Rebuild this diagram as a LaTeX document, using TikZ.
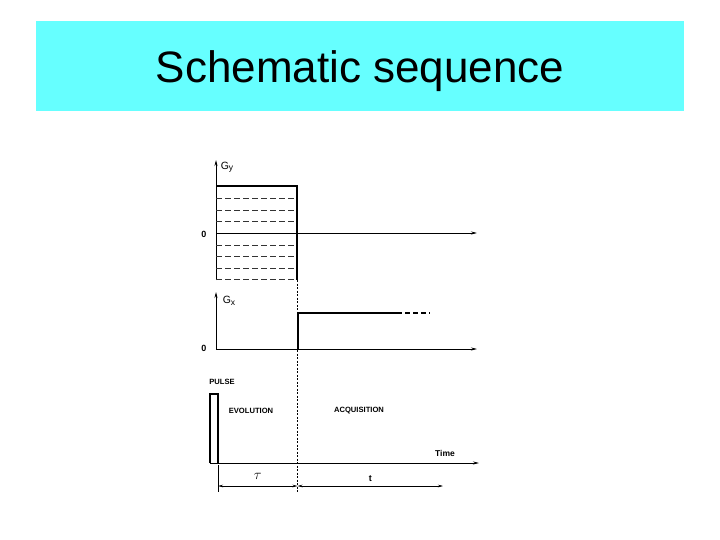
\documentclass[tikz,border=0pt]{standalone}
\usepackage{fontspec}
\setmainfont{Liberation Sans}
\usetikzlibrary{arrows.meta}
\definecolor{banner}{RGB}{102,255,255}
\newcommand{\gsub}[1]{G\raisebox{-1.5pt}{\fontsize{8.5}{9}\selectfont #1}}
\tikzset{
  axis/.style={line width=0.8pt,-{Stealth[length=6pt,width=3pt]}},
  span/.style={line width=0.5pt,{Stealth[length=5pt,width=2.5pt]}-{Stealth[length=5pt,width=2.5pt]}},
  signal/.style={line width=2pt},
  gradstep/.style={dash pattern=on 6pt off 3pt,line width=0.9pt,black!80},
  marker/.style={dash pattern=on 2pt off 1.5pt,line width=0.6pt},
  lbl/.style={font=\fontsize{7.6}{8}\selectfont\bfseries,inner sep=1pt},
  glbl/.style={font=\fontsize{10.5}{11}\selectfont,inner sep=1pt},
}

\begin{document}
\begin{tikzpicture}[x=1pt,y=-1pt]
  \useasboundingbox (0,0) rectangle (720,540);
  % Title band
  \fill[banner] (36,21) rectangle (684,111);
  \node[font=\fontsize{44}{50}\selectfont] (title) at (360,71) {Schematic sequence};

  % Gy gradient
  \coordinate (gybot) at (216,280);
  \coordinate (gytop) at (216,160);
  \coordinate (gyzero) at (216,233);
  \coordinate (gyend) at (477,233);
  \draw[axis] (gybot) -- (gytop);
  \draw[axis] (gyzero) -- (gyend);
  \foreach \y in {198,210,221.5,245,256.5,268,279.5}
    \draw[gradstep] (216,\y) -- (296,\y);
  \draw[signal] (216,186) -- (297,186) -- (297,280);
  \node[glbl] (gylab) at (227,167) {\gsub{y}};
  \node[lbl,font=\fontsize{9}{10}\selectfont\bfseries] (gy0) at (204,234) {0};

  % Gx gradient
  \coordinate (gxzero) at (216,349);
  \coordinate (gxtop) at (216,292);
  \coordinate (gxend) at (477,349);
  \draw[axis] (gxzero) -- (gxtop);
  \draw[axis] (gxzero) -- (gxend);
  \draw[signal] (298,349) -- (298,313) -- (397,313);
  \draw[signal,dash pattern=on 5pt off 3pt] (397,313) -- (430,313);
  \node[glbl] (gxlab) at (229,301) {\gsub{x}};
  \node[lbl,font=\fontsize{9}{10}\selectfont\bfseries] (gx0) at (204,348) {0};

  % Pulse and time axis
  \coordinate (torig) at (210,463);
  \coordinate (tend) at (479,463);
  \draw[line width=1.6pt] (210,463) -- (210,394) -- (218,394) -- (218,463);
  \draw[axis] (torig) -- (tend);
  \node[lbl] (pulse) at (222,382) {PULSE};
  \node[lbl] (evol) at (251,411) {EVOLUTION};
  \node[lbl] (acq) at (359,411) {ACQUISITION};
  \node[lbl,font=\fontsize{8.5}{9}\selectfont\bfseries] (time) at (445,453) {Time};

  % Delay and acquisition spans
  \coordinate (tau0) at (218,465);
  \coordinate (tau1) at (218,492);
  \coordinate (mk0) at (297.5,280);
  \coordinate (mk1) at (297.5,492);
  \draw[line width=0.5pt] (tau0) -- (tau1);
  \draw[marker] (mk0) -- (mk1);
  \coordinate (sa) at (218,486);
  \coordinate (sb) at (297.5,486);
  \coordinate (sc) at (443,486);
  \draw[span] (sa) -- node[above=3pt,font=\fontsize{14}{15}\selectfont] (taulab) {$\tau$} (sb);
  \draw[span] (sb) -- node[above=3pt,lbl,font=\fontsize{9}{10}\selectfont\bfseries] (tlab) {t} (sc);
\end{tikzpicture}
\end{document}
